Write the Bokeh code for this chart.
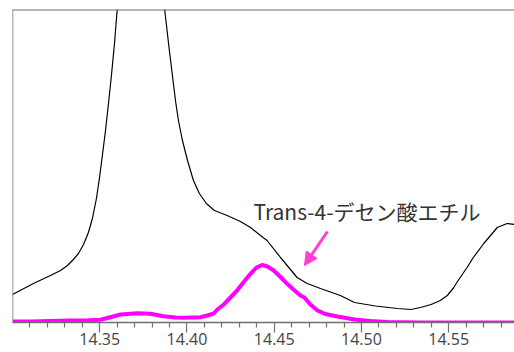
from bokeh.plotting import figure
from bokeh.models import Range1d, FixedTicker, Span, Label, Arrow, NormalHead, PrintfTickFormatter
from bokeh.embed import file_html
from bokeh.resources import INLINE

# Retention time (min) and detector response (arbitrary units)
tic_time = [14.3000, 14.3120, 14.3218, 14.3275, 14.3315, 14.3349, 14.3378, 14.3407, 14.3435,
            14.3458, 14.3481, 14.3498, 14.3515, 14.3533, 14.3550, 14.3567, 14.3585, 14.3600,
            14.3630, 14.3676, 14.3733, 14.3791, 14.3836, 14.3872, 14.3899, 14.3934, 14.3951,
            14.3974, 14.4003, 14.4037, 14.4071, 14.4111, 14.4157, 14.4230, 14.4306, 14.4364,
            14.4421, 14.4459, 14.4536, 14.4631, 14.4689, 14.4765, 14.4879, 14.4960, 14.5080,
            14.5206, 14.5284, 14.5338, 14.5399, 14.5452, 14.5492, 14.5529, 14.5550, 14.5605,
            14.5641, 14.5701, 14.5778, 14.5835, 14.5877, 14.5900]
tic_signal = [28, 39, 47, 52, 57, 63, 69, 78, 90,
              104, 124, 144, 167, 192, 219, 247, 280, 313,
              380, 420, 440, 420, 370, 313, 272, 222, 202,
              182, 162, 142, 129, 119, 112, 107, 101, 95,
              87, 82, 65, 45, 39, 34, 27, 20, 16.5,
              14, 13, 15, 18, 22, 27, 35, 41, 55,
              65, 79, 95, 99, 98, 96]

eic_time = [14.3003, 14.3103, 14.3218, 14.3332, 14.3418, 14.3504, 14.3561, 14.3619, 14.3716,
            14.3791, 14.3865, 14.3934, 14.3980, 14.4077, 14.4117, 14.4153, 14.4174, 14.4211,
            14.4249, 14.4287, 14.4323, 14.4364, 14.4398, 14.4431, 14.4461, 14.4497, 14.4536,
            14.4574, 14.4610, 14.4650, 14.4673, 14.4707, 14.4748, 14.4793, 14.4862, 14.4960,
            14.5051, 14.5149, 14.5338, 14.5567, 14.5900]
eic_signal = [1, 1, 1.5, 2, 2, 2.7, 5.3, 8, 9.3,
              8.7, 6.3, 5, 4.7, 5.3, 7, 9, 13, 18,
              25, 32, 40, 48.7, 55, 57.5, 56, 52, 45.5,
              38.7, 33, 27, 25, 18, 12, 8.5, 6, 3,
              1.5, 0.5, 0, 0, 0]

major_ticks = [14.35, 14.40, 14.45, 14.50, 14.55]
minor_ticks = [14.31, 14.32, 14.33, 14.34, 14.36, 14.37, 14.38, 14.39, 14.41, 14.42, 14.43,
               14.44, 14.46, 14.47, 14.48, 14.49, 14.51, 14.52, 14.53, 14.54, 14.56, 14.57, 14.58]

compound = "Trans-4-デセン酸エチル"

JP_FONT = "Noto Sans CJK JP"
TICK_FONT = "Open Sans"
AXIS_GRAY = "#707070"
X0, X1 = 14.3000, 14.5877

p = figure(width=514, height=352, output_backend="svg", toolbar_location=None,
           x_range=Range1d(X0, X1), y_range=Range1d(0, 313),
           min_border_left=12, min_border_right=0, min_border_top=9, min_border_bottom=30)
p.outline_line_color = None
p.xgrid.visible = False
p.ygrid.visible = False
p.yaxis.visible = False
p.background_fill_color = "white"

p.line(tic_time, tic_signal, line_color="black", line_width=1.2)
p.line(eic_time, eic_signal, line_color="#ff00ff", line_width=4, line_join="round")

xa = p.xaxis[0]
xa.ticker = FixedTicker(ticks=major_ticks, minor_ticks=minor_ticks)
xa.formatter = PrintfTickFormatter(format="%.2f")
xa.axis_line_color = AXIS_GRAY
xa.axis_line_width = 1.5
xa.major_tick_line_color = AXIS_GRAY
xa.minor_tick_line_color = AXIS_GRAY
xa.major_tick_line_width = 1.2
xa.minor_tick_line_width = 1.2
xa.major_tick_in = 0
xa.major_tick_out = 10
xa.minor_tick_in = 0
xa.minor_tick_out = 5
xa.major_label_standoff = 0
xa.major_label_text_font = TICK_FONT
xa.major_label_text_font_size = "16px"
xa.major_label_text_color = "#444444"

p.add_layout(Span(location=X0, dimension="height", line_color=AXIS_GRAY, line_width=1.5))
p.add_layout(Span(location=313, dimension="width", line_color=AXIS_GRAY, line_width=2))

p.add_layout(Label(x=14.4381, y=112, text=compound, text_font=JP_FONT,
                   text_font_size="21px", text_color="#333333", text_baseline="alphabetic"))
p.add_layout(Arrow(x_start=14.4805, y_start=91, x_end=14.4673, y_end=57,
                   line_color="#ff3fcf", line_width=3,
                   end=NormalHead(size=13, fill_color="#ff3fcf", line_color="#ff3fcf")))

open("out.html", "w").write(file_html(p, INLINE))
